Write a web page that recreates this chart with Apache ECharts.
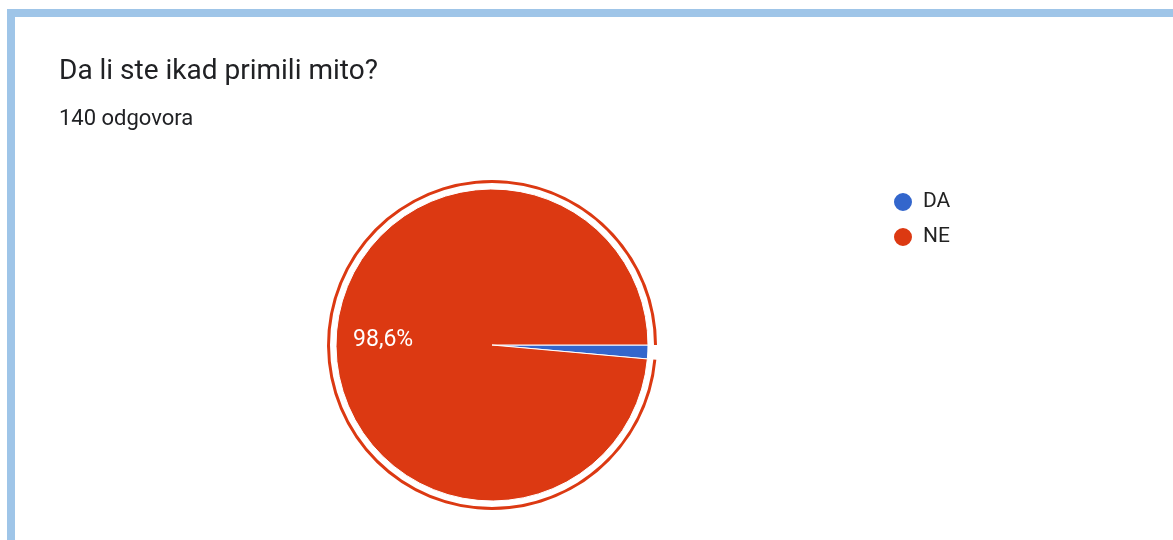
<!DOCTYPE html>
<html>
<head>
<meta charset="utf-8">
<script src="https://cdn.jsdelivr.net/npm/echarts@6/dist/echarts.min.js"></script>
<style>
  body { margin: 0; background: #fff; }
  .card {
    position: absolute; left: 7px; top: 9px; width: 1200px; height: 600px;
    border-top: 8px solid #9fc5e8; border-left: 8px solid #9fc5e8;
    background: #fff;
  }
  #chart { position: absolute; left: 0; top: 0; width: 1173px; height: 540px; }
</style>
</head>
<body>
<div class="card"></div>
<div id="chart"></div>
<script>
  const titleText = 'Da li ste ikad primili mito?'
  const subText = '140 odgovora'
  const categories = ['DA', 'NE']
  const counts = [2, 138]
  const colors = ['#3366cc', '#dc3912']

  let myChart = echarts.init(document.getElementById('chart'))
  let total = counts.reduce((a, b) => a + b, 0)
  let pieData = categories.map((name, i) => ({ name: name, value: counts[i] }))
  let center = [492, 345]

  let option = {
    animation: false,
    title: {
      text: titleText,
      subtext: subText,
      left: 54,
      top: 53,
      itemGap: 22,
      textStyle: { fontFamily: 'Roboto', fontSize: 28, fontWeight: 'normal', color: '#202124' },
      subtextStyle: { fontFamily: 'Roboto', fontSize: 22, color: '#202124' }
    },
    legend: {
      orient: 'vertical',
      left: 887,
      top: 186,
      icon: 'circle',
      itemWidth: 20,
      itemHeight: 20,
      itemGap: 13,
      data: categories,
      textStyle: { fontFamily: 'Roboto', fontSize: 21, color: '#222', padding: [0, 0, 0, 5] }
    },
    color: colors,
    series: [
      {
        name: 'odgovori',
        type: 'pie',
        center: center,
        radius: [0, 156],
        startAngle: 0,
        clockwise: true,
        silent: true,
        itemStyle: { borderColor: '#fff', borderWidth: 1 },
        label: { show: false },
        labelLine: { show: false },
        data: pieData
      },
      {
        // outline ring around the highlighted NE slice
        type: 'pie',
        center: center,
        radius: [162, 165],
        startAngle: 0,
        clockwise: true,
        silent: true,
        legendHoverLink: false,
        label: { show: false },
        labelLine: { show: false },
        data: pieData.map((d, i) => ({
          name: d.name,
          value: d.value,
          itemStyle: { color: i === 1 ? colors[1] : 'transparent' }
        }))
      },
      {
        // percentage labels
        type: 'pie',
        center: center,
        radius: [0, 212],
        startAngle: 0,
        clockwise: true,
        silent: true,
        itemStyle: { color: 'transparent' },
        label: {
          show: true,
          position: 'inside',
          fontFamily: 'Roboto',
          fontSize: 23,
          color: '#fff',
          formatter: (p) => p.value / total > 0.05 ? (p.value / total * 100).toFixed(1).replace('.', ',') + '%' : ''
        },
        labelLine: { show: false },
        data: pieData.map(d => ({ name: d.name + ' ', value: d.value }))
      }
    ]
  }
  myChart.setOption(option)
</script>
</body>
</html>
